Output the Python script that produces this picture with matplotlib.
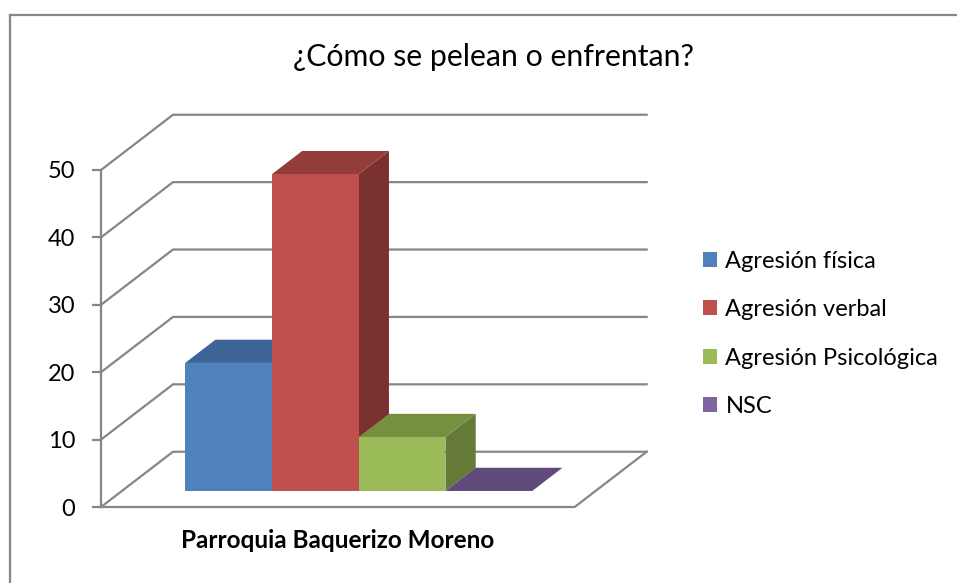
import matplotlib.pyplot as plt
from matplotlib.patches import Polygon, Patch
from matplotlib.lines import Line2D

plt.rcParams['font.family'] = ['Lato', 'DejaVu Sans']

title = '¿Cómo se pelean o enfrentan?'
category = 'Parroquia Baquerizo Moreno'
series = ['Agresión física', 'Agresión verbal', 'Agresión Psicológica', 'NSC']
values = [19, 47, 8, 0]
ticks = [0, 10, 20, 30, 40, 50]

front_colors = ['#4F81BD', '#C0504D', '#9BBB59', '#8064A2']
top_colors = ['#3C6494', '#943C3A', '#77903F', '#604A7B']
side_colors = ['#2F4F76', '#7A302F', '#647A36', '#4D3B63']

# oblique 3d look: depth z in 0..1 shifts right and up
KX = 0.83
KY = 8.2
GAP = 0.73
W = 2 * GAP + len(values)
Z0, Z1 = 0.29, 0.71
GRID = '#868686'


def proj(x, v, z):
    return (x + z * KX, v + z * KY)


fig = plt.figure(figsize=(9.57, 5.83), dpi=100)
ax = fig.add_axes([0, 0, 1, 1])
# pixel anchors: front axis x=101px, value 0 at 507px, 10 units = 67.4px
px_x = 86.75
px_y = 6.74
ax.set_xlim(-101 / px_x, (957 - 101) / px_x)
ax.set_ylim((507 - 583) / px_y, 507 / px_y)

# back wall + left wall gridlines
for t in ticks:
    pts = [proj(0, t, 0), proj(0, t, 1), proj(W, t, 1)]
    ax.plot([p[0] for p in pts], [p[1] for p in pts], color=GRID, lw=1.6,
            solid_joinstyle='miter', zorder=1)
# floor
pts = [proj(0, 0, 0), proj(W, 0, 0), proj(W, 0, 1)]
ax.plot([p[0] for p in pts], [p[1] for p in pts], color=GRID, lw=1.6,
        solid_joinstyle='miter', zorder=1)

# bars
for i, v in enumerate(values):
    x0 = GAP + i
    x1 = x0 + 1
    side = [proj(x1, 0, Z0), proj(x1, 0, Z1), proj(x1, v, Z1), proj(x1, v, Z0)]
    top = [proj(x0, v, Z0), proj(x1, v, Z0), proj(x1, v, Z1), proj(x0, v, Z1)]
    front = [proj(x0, 0, Z0), proj(x1, 0, Z0), proj(x1, v, Z0), proj(x0, v, Z0)]
    z = 2 + i
    if v > 0:
        ax.add_patch(Polygon(side, closed=True, fc=side_colors[i], ec='none', zorder=z))
    ax.add_patch(Polygon(top, closed=True, fc=top_colors[i], ec='none', zorder=z))
    if v > 0:
        ax.add_patch(Polygon(front, closed=True, fc=front_colors[i], ec='none', zorder=z))

# front value axis
for s in ['top', 'right', 'bottom']:
    ax.spines[s].set_visible(False)
ax.spines['left'].set_position(('data', 0))
ax.spines['left'].set_bounds(0, 50)
ax.spines['left'].set_color(GRID)
ax.spines['left'].set_linewidth(1.6)
ax.set_yticks(ticks)
ax.set_xticks([])
ax.tick_params(axis='y', direction='out', length=6.5, width=1.6, color=GRID,
               labelsize=17, pad=12)

ax.text(W / 2, -4.9, category, ha='center', va='center', fontsize=17.5,
        fontweight='bold')

fig.text(494 / 957, 1 - 57 / 583, title, ha='center', va='center', fontsize=21.8)

handles = [Patch(fc=c, ec='none') for c in front_colors]
fig.legend(handles, series, loc='center left',
           bbox_to_anchor=(703 / 957, 1 - 334 / 583), frameon=False,
           fontsize=17, handlelength=0.6, handleheight=0.6,
           handletextpad=0.35, labelspacing=1.16, borderpad=0, borderaxespad=0)

# chart border
fig.add_artist(Line2D([10 / 957, 10 / 957], [0, 1 - 15 / 583], color=GRID, lw=1.6))
fig.add_artist(Line2D([10 / 957, 1], [1 - 15 / 583, 1 - 15 / 583], color=GRID, lw=1.6))

fig.savefig('out.png', dpi=100)
